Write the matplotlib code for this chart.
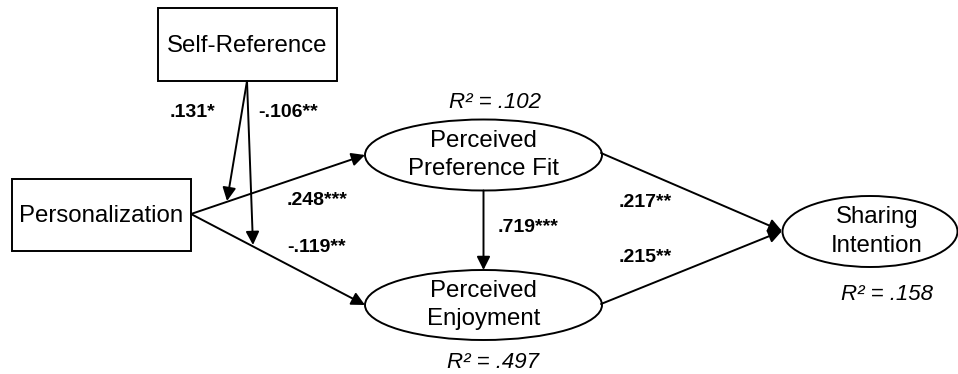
import matplotlib
matplotlib.use("Agg")
import matplotlib.pyplot as plt
from matplotlib.patches import Rectangle, Ellipse, FancyArrowPatch

# ---- data ----
node_labels = ["Self-Reference", "Personalization", "Perceived\nPreference Fit",
               "Perceived\nEnjoyment", "Sharing\nIntention"]
path_labels = [".131*", "-.106**", ".248***", "-.119**", ".719***", ".217**", ".215**"]
r2_labels = ["R² = .102", "R² = .497", "R² = .158"]

# ---- layout (pixel coordinates, y downwards) ----
W, H = 958, 374
fig = plt.figure(figsize=(W / 100, H / 100), dpi=100)
ax = fig.add_axes([0, 0, 1, 1])
ax.set_xlim(0, W)
ax.set_ylim(H, 0)
ax.axis("off")

FONT = "Liberation Sans"
LW = 1.4
node_fs = 17.3
lab_fs = 14
r2_fs = 16

# rectangles: (x0, y0, x1, y1)
rects = {0: (158, 8, 337, 81), 1: (12, 179, 191, 251)}
# ellipses: (cx, cy, w, h)
ells = {2: (483.5, 155, 237, 71), 3: (483.5, 305, 237, 70), 4: (870, 231.5, 175, 71)}

for i, (x0, y0, x1, y1) in rects.items():
    ax.text((x0 + x1) / 2, (y0 + y1) / 2 + 1, node_labels[i], ha="center", va="center",
            fontsize=node_fs, family=FONT)
    ax.add_patch(Rectangle((x0, y0), x1 - x0, y1 - y0, fill=False, lw=LW, ec="black"))
for i, (cx, cy, w, h) in ells.items():
    ax.add_patch(Ellipse((cx, cy), w, h, fill=False, lw=LW, ec="black"))
    ax.text(cx + (7 if i == 4 else 0), cy, node_labels[i], ha="center", va="center",
            fontsize=node_fs, family=FONT, linespacing=1.4)


def arrow(p0, p1):
    ax.add_patch(FancyArrowPatch(p0, p1, arrowstyle="-|>", mutation_scale=20,
                                 lw=LW, color="black", shrinkA=0, shrinkB=0))


origin = (191, 214)
arrow(origin, (365, 155))
arrow(origin, (365, 305))
src = (247, 81)
arrow(src, (227, 201))
arrow(src, (253, 245))
arrow((483.5, 190.5), (483.5, 270))
arrow((601, 153), (782, 231))
arrow((601, 304), (782, 231))

# path labels
lab_pos = [(193, 112), (288, 112), (317, 200), (317, 247), (528, 227), (645, 202), (645, 257)]
for t, (x, y) in zip(path_labels, lab_pos):
    ax.text(x, y, t, ha="center", va="center", fontsize=lab_fs, fontweight="bold", family=FONT)

r2_pos = [(495, 102), (493, 363), (887, 295)]
for t, (x, y) in zip(r2_labels, r2_pos):
    ax.text(x, y, t, ha="center", va="center", fontsize=r2_fs, style="italic", family=FONT)

fig.savefig("out.png", dpi=100, facecolor="white")
